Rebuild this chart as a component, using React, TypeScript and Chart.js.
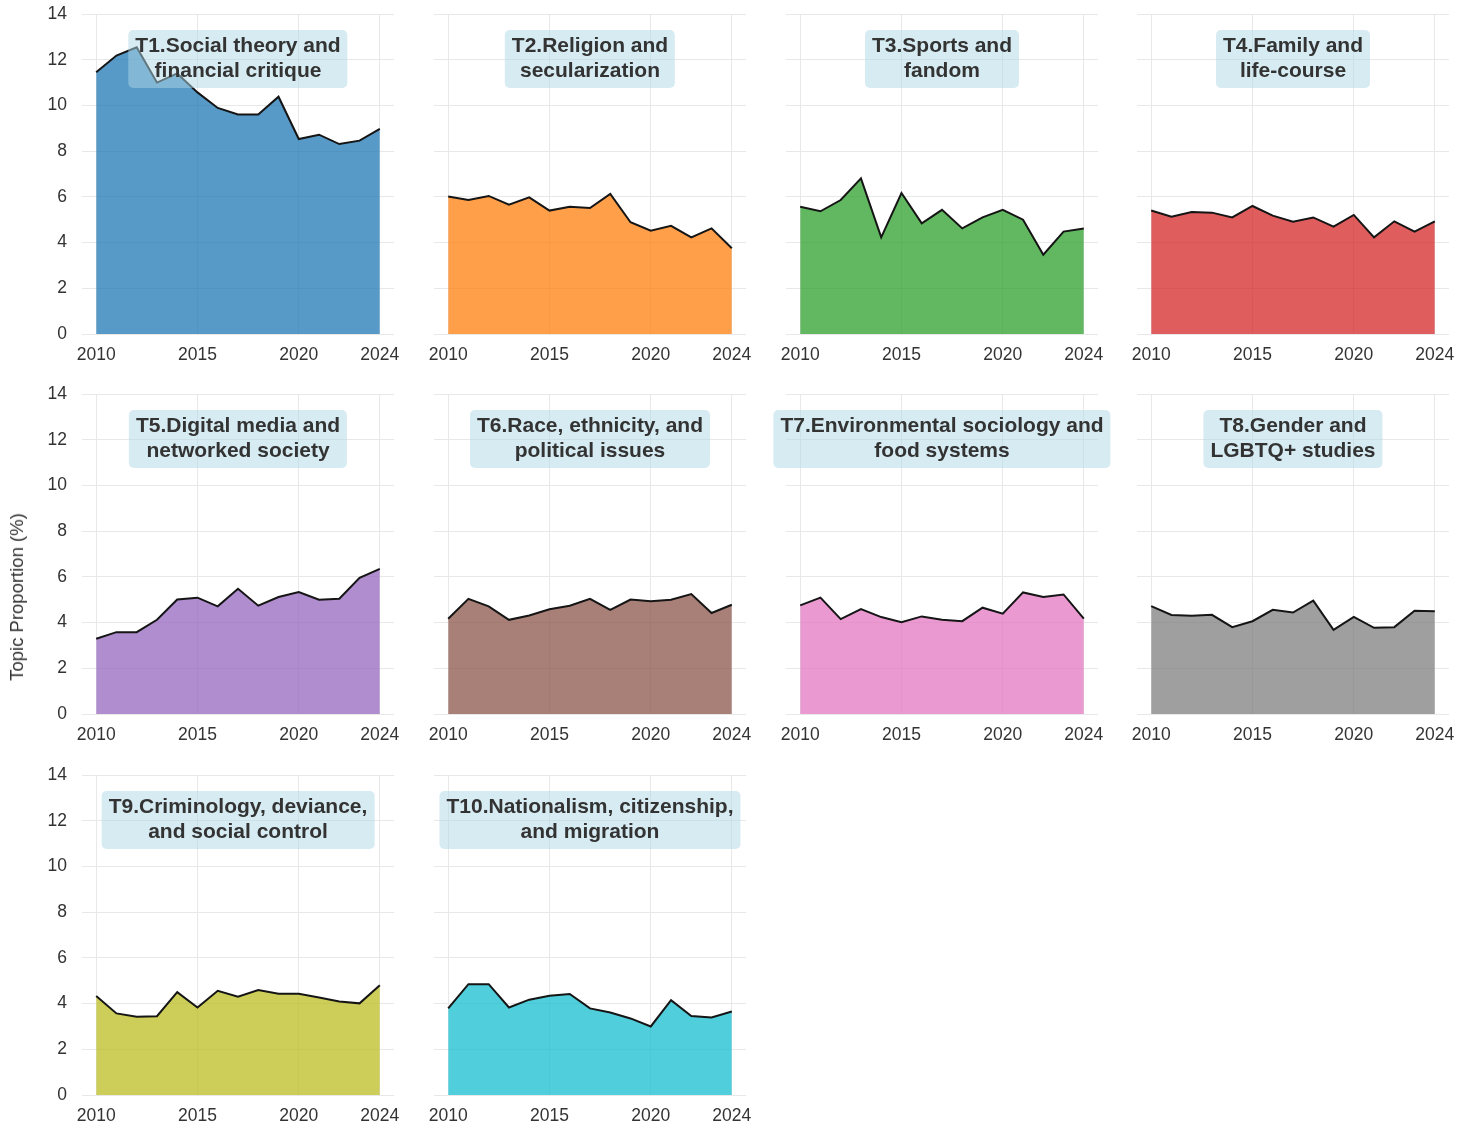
import React, { useEffect, useRef } from "react";
import { Chart, registerables } from "chart.js";

Chart.register(...registerables);

// ---------- data ----------
const years = [2010, 2011, 2012, 2013, 2014, 2015, 2016, 2017, 2018, 2019, 2020, 2021, 2022, 2023, 2024];
const xTickYears = [2010, 2015, 2020, 2024];
const yMin = 0;
const yMax = 14;
const yStep = 2;

const t1 = [11.45, 12.18, 12.54, 11.0, 11.4, 10.57, 9.89, 9.6, 9.6, 10.38, 8.53, 8.72, 8.31, 8.46, 8.97];
const t2 = [6.02, 5.86, 6.04, 5.66, 5.98, 5.4, 5.57, 5.51, 6.13, 4.89, 4.52, 4.73, 4.23, 4.62, 3.75];
const t3 = [5.57, 5.37, 5.86, 6.81, 4.23, 6.17, 4.84, 5.43, 4.62, 5.1, 5.43, 5.0, 3.47, 4.48, 4.62];
const t4 = [5.4, 5.13, 5.34, 5.31, 5.1, 5.6, 5.18, 4.91, 5.1, 4.7, 5.21, 4.23, 4.93, 4.48, 4.93];
const t5 = [3.29, 3.58, 3.58, 4.12, 5.01, 5.09, 4.71, 5.48, 4.74, 5.12, 5.34, 5.0, 5.04, 5.96, 6.35];
const t6 = [4.17, 5.04, 4.71, 4.12, 4.31, 4.58, 4.74, 5.04, 4.56, 5.01, 4.93, 5.0, 5.25, 4.42, 4.78];
const t7 = [4.75, 5.09, 4.15, 4.59, 4.24, 4.02, 4.27, 4.12, 4.06, 4.65, 4.39, 5.32, 5.12, 5.23, 4.17];
const t8 = [4.72, 4.33, 4.3, 4.34, 3.8, 4.06, 4.56, 4.44, 4.96, 3.68, 4.25, 3.77, 3.8, 4.52, 4.5];
const t9 = [4.33, 3.57, 3.42, 3.45, 4.5, 3.83, 4.56, 4.3, 4.59, 4.43, 4.43, 4.27, 4.09, 4.01, 4.8];
const t10 = [3.79, 4.85, 4.85, 3.83, 4.17, 4.34, 4.42, 3.79, 3.61, 3.35, 3.0, 4.15, 3.46, 3.39, 3.65];

const topicSeries = [t1, t2, t3, t4, t5, t6, t7, t8, t9, t10];

const topicTitles = [
  ["T1.Social theory and", "financial critique"],
  ["T2.Religion and", "secularization"],
  ["T3.Sports and", "fandom"],
  ["T4.Family and", "life-course"],
  ["T5.Digital media and", "networked society"],
  ["T6.Race, ethnicity, and", "political issues"],
  ["T7.Environmental sociology and", "food systems"],
  ["T8.Gender and", "LGBTQ+ studies"],
  ["T9.Criminology, deviance,", "and social control"],
  ["T10.Nationalism, citizenship,", "and migration"],
];

const topicColors = [
  "rgba(31,119,180,0.75)",
  "rgba(255,127,14,0.75)",
  "rgba(44,160,44,0.75)",
  "rgba(214,39,40,0.75)",
  "rgba(148,103,189,0.75)",
  "rgba(140,86,75,0.75)",
  "rgba(227,119,194,0.75)",
  "rgba(127,127,127,0.75)",
  "rgba(188,189,34,0.75)",
  "rgba(23,190,207,0.75)",
];

const yAxisLabel = "Topic Proportion (%)";

// ---------- layout ----------
const FONT = "'Liberation Sans', Arial, Helvetica, sans-serif";
const colLefts = [82, 434, 786, 1137];
const rowTops = [14, 394, 775];
const plotW = 312;
const plotH = 320;
const padTop = 14;
const padRight = 24;
const xAxisH = 40;

function Panel({ idx }: { idx: number }) {
  const ref = useRef<HTMLCanvasElement | null>(null);
  const col = idx % 4;
  const row = Math.floor(idx / 4);
  const showY = col === 0;
  const yW = showY ? 70 : 12;
  const left = colLefts[col] - yW;
  const top = rowTops[row] - padTop;
  const width = yW + plotW + padRight;
  const height = padTop + plotH + xAxisH;

  useEffect(() => {
    if (!ref.current) return;
    const values = topicSeries[idx];
    const chart = new Chart(ref.current, {
      type: "line",
      data: {
        datasets: [
          {
            data: years.map((y, i) => ({ x: y, y: values[i] })),
            borderColor: "#151515",
            borderWidth: 2,
            backgroundColor: topicColors[idx],
            fill: "origin",
            pointRadius: 0,
            tension: 0,
          },
        ],
      },
      options: {
        animation: false,
        responsive: true,
        maintainAspectRatio: false,
        layout: { padding: { top: padTop, right: padRight, left: 0, bottom: 0 } },
        plugins: { legend: { display: false }, tooltip: { enabled: false }, title: { display: false } },
        scales: {
          x: {
            type: "linear",
            min: 2009.3,
            max: 2024.7,
            afterBuildTicks: (s: any) => {
              s.ticks = xTickYears.map((v) => ({ value: v }));
            },
            afterFit: (s: any) => {
              s.height = xAxisH;
              s.paddingLeft = 0;
              s.paddingRight = 0;
            },
            ticks: {
              callback: (v: any) => String(v),
              color: "#333",
              font: { family: FONT, size: 17.5 },
              padding: 11,
              maxRotation: 0,
              autoSkip: false,
            },
            grid: { color: "#e8e8e8", lineWidth: 1, drawTicks: false },
            border: { display: false },
          },
          y: {
            type: "linear",
            min: yMin,
            max: yMax,
            afterFit: (s: any) => {
              s.width = yW;
              s.paddingTop = 0;
              s.paddingBottom = 0;
            },
            ticks: {
              display: showY,
              stepSize: yStep,
              color: "#333",
              font: { family: FONT, size: 17.5 },
              padding: 15,
            },
            grid: { color: "#e8e8e8", lineWidth: 1, drawTicks: false },
            border: { display: false },
          },
        },
      },
    });
    return () => chart.destroy();
  }, [idx]);

  const [l1, l2] = topicTitles[idx];
  return (
    <>
      <div style={{ position: "absolute", left, top, width, height }}>
        <canvas ref={ref} />
      </div>
      <div
        style={{
          position: "absolute",
          left: colLefts[col] + plotW / 2,
          top: rowTops[row] + 16,
          transform: "translateX(-50%)",
          whiteSpace: "nowrap",
          textAlign: "center",
          background: "rgba(173,216,230,0.5)",
          borderRadius: 5,
          padding: "2px 7px 6px 7px",
          fontFamily: FONT,
          fontWeight: "bold",
          fontSize: 21,
          lineHeight: "25px",
          color: "#333",
        }}
      >
        {l1}
        <br />
        {l2}
      </div>
    </>
  );
}

export default function App() {
  return (
    <div
      style={{
        position: "absolute",
        left: 0,
        top: 0,
        width: 1458,
        height: 1131,
        background: "#fff",
        overflow: "hidden",
      }}
    >
      {topicSeries.map((_, i) => (
        <Panel key={i} idx={i} />
      ))}
      <div
        style={{
          position: "absolute",
          left: 17,
          top: 597,
          transform: "translate(-50%, -50%) rotate(-90deg)",
          whiteSpace: "nowrap",
          fontFamily: FONT,
          fontSize: 18.5,
          color: "#333",
        }}
      >
        {yAxisLabel}
      </div>
    </div>
  );
}
